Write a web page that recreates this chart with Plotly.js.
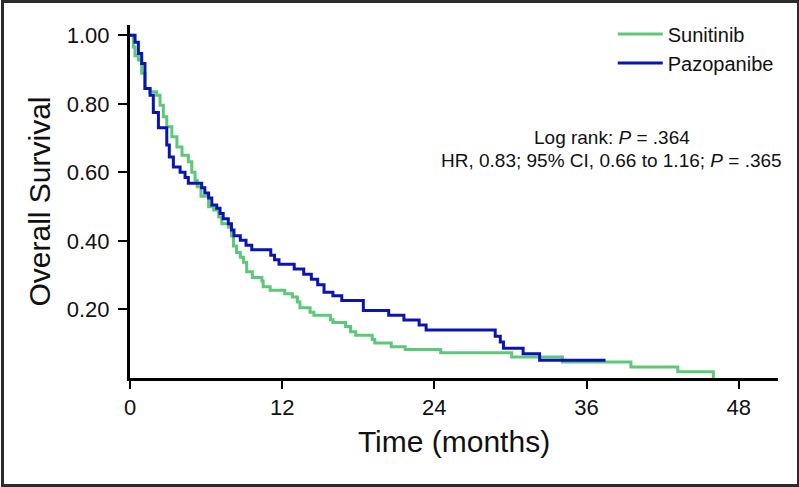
<!DOCTYPE html>
<html>
<head>
<meta charset="utf-8">
<script src="https://cdn.plot.ly/plotly-3.0.1.min.js"></script>
<style>
  html, body { margin: 0; padding: 0; background: #fff; }
  #chart { width: 799px; height: 487px; position: relative; }
  #frame { position: absolute; left: 1px; top: 0px; width: 793px; height: 481px; border: 3px solid #2b2b2b; pointer-events: none; }
</style>
</head>
<body>
<div id="chart"></div>
<div id="frame"></div>
<script>
// Sunitinib (green) Kaplan–Meier steps: time (months) and survival after step
const sunitinibTime = [0, 0.26, 0.39, 0.66, 0.92, 1.18, 1.58, 2.1, 2.37, 2.63, 2.9, 3.3, 3.7, 4.1, 4.6, 4.87, 5.13, 5.3, 5.6, 6.2, 6.6, 7.0, 7.24, 7.76, 8.0, 8.16, 8.4, 8.7, 8.95, 9.2, 9.65, 10.4, 10.5, 11.05, 12.2, 12.8, 13.2, 13.4, 14.2, 14.5, 15.8, 16.0, 17.0, 17.4, 17.8, 19.1, 19.3, 20.6, 21.7, 24.5, 30.1, 34.1, 39.5, 43.2, 46.0];
const sunitinibSurv = [1.0, 0.966, 0.94, 0.928, 0.889, 0.845, 0.835, 0.825, 0.796, 0.762, 0.733, 0.704, 0.674, 0.65, 0.631, 0.60, 0.577, 0.558, 0.53, 0.50, 0.49, 0.47, 0.45, 0.44, 0.414, 0.385, 0.366, 0.352, 0.338, 0.31, 0.293, 0.283, 0.266, 0.256, 0.246, 0.236, 0.222, 0.205, 0.192, 0.183, 0.17, 0.162, 0.15, 0.135, 0.125, 0.112, 0.102, 0.091, 0.083, 0.074, 0.061, 0.047, 0.032, 0.018, 0.0];

// Pazopanibe (blue)
const pazopanibeTime = [0, 0.4, 0.66, 0.92, 1.18, 1.58, 1.84, 2.24, 2.9, 3.1, 3.42, 3.95, 4.34, 4.6, 5.65, 5.9, 6.2, 6.45, 6.84, 7.1, 7.35, 7.75, 8.0, 8.2, 8.7, 9.15, 9.6, 11.1, 11.4, 11.75, 12.95, 13.7, 14.3, 14.8, 15.3, 16.0, 16.7, 18.4, 20.4, 21.6, 22.8, 23.35, 28.8, 29.2, 29.45, 31.0, 32.3, 37.5];
const pazopanibeSurv = [1.0, 0.98, 0.947, 0.918, 0.845, 0.825, 0.775, 0.73, 0.68, 0.645, 0.616, 0.60, 0.585, 0.568, 0.555, 0.54, 0.525, 0.505, 0.495, 0.48, 0.465, 0.45, 0.432, 0.415, 0.402, 0.387, 0.374, 0.358, 0.345, 0.332, 0.318, 0.303, 0.288, 0.272, 0.25, 0.24, 0.226, 0.197, 0.183, 0.169, 0.155, 0.14, 0.122, 0.105, 0.087, 0.071, 0.052, 0.052];

const seriesNames = ["Sunitinib", "Pazopanibe"];
const xTickVals = [0, 12, 24, 36, 48];
const yTickVals = [0.2, 0.4, 0.6, 0.8, 1.0];
const yTickText = ["0.20", "0.40", "0.60", "0.80", "1.00"];

const FONT = '"Liberation Sans", Arial, Helvetica, sans-serif';

const traces = [
  { x: sunitinibTime, y: sunitinibSurv, name: seriesNames[0], type: 'scatter', mode: 'lines',
    line: { shape: 'hv', color: '#5cc878', width: 3 } },
  { x: pazopanibeTime, y: pazopanibeSurv, name: seriesNames[1], type: 'scatter', mode: 'lines',
    line: { shape: 'hv', color: '#0a14b4', width: 3 } }
];

const layout = {
  width: 799, height: 487,
  margin: { l: 130, r: 21, t: 25, b: 109, pad: 0 },
  paper_bgcolor: '#ffffff', plot_bgcolor: '#ffffff',
  font: { family: FONT, color: '#111' },
  showlegend: true,
  legend: { x: 0.745, y: 1.03, xanchor: 'left', yanchor: 'top', itemwidth: 45,
            font: { size: 20, family: FONT, color: '#111' },
            bgcolor: 'rgba(0,0,0,0)', tracegroupgap: 0 },
  xaxis: {
    range: [0, 51.1], tickvals: xTickVals, ticks: 'outside', ticklen: 8, tickwidth: 2, tickcolor: '#000',
    showline: true, linecolor: '#000', linewidth: 3, showgrid: false, zeroline: false,
    tickfont: { size: 22, family: FONT, color: '#111' },
    title: { text: 'Time (months)', font: { size: 30, family: FONT, color: '#111' }, standoff: 12 }
  },
  yaxis: {
    range: [0, 1.03], tickvals: yTickVals, ticktext: yTickText, ticks: 'outside', ticklen: 9, tickwidth: 2, tickcolor: '#000',
    showline: true, linecolor: '#000', linewidth: 3, showgrid: false, zeroline: false,
    ticklabelstandoff: 4,
    tickfont: { size: 22, family: FONT, color: '#111' },
    title: { text: 'Overall Survival', font: { size: 30, family: FONT, color: '#111' }, standoff: 8 }
  },
  annotations: [
    { xref: 'paper', yref: 'paper', x: 0.744, y: 0.68, xanchor: 'center', yanchor: 'middle', showarrow: false,
      text: 'Log rank: <i>P</i> = .364', font: { size: 19, family: FONT, color: '#111' } },
    { xref: 'paper', yref: 'paper', x: 1.01, y: 0.617, xanchor: 'right', yanchor: 'middle', showarrow: false,
      text: 'HR, 0.83; 95% CI, 0.66 to 1.16; <i>P</i> = .365', font: { size: 19, family: FONT, color: '#111' } }
  ]
};

Plotly.newPlot('chart', traces, layout, { staticPlot: true, displayModeBar: false });
</script>
</body>
</html>
